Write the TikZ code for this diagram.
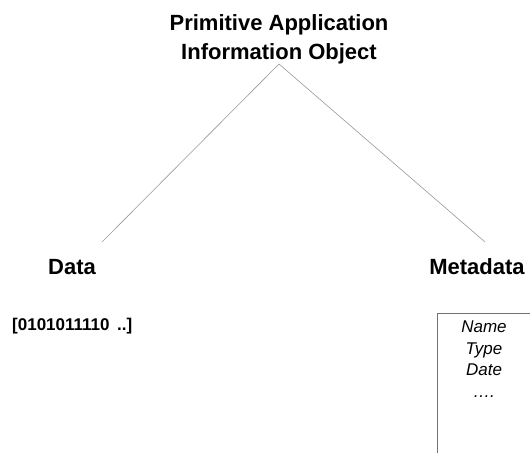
\documentclass[tikz,border=0pt]{standalone}
\usepackage{fontspec}
\setmainfont{Liberation Sans}
\tikzset{
  big/.style={font=\fontsize{22bp}{29bp}\selectfont\bfseries, inner sep=0pt, align=center},
  bits/.style={font=\fontsize{17bp}{20bp}\selectfont\bfseries, inner sep=0pt, anchor=west},
  meta/.style={font=\fontsize{17bp}{21.5bp}\selectfont\itshape, inner sep=0pt, align=center, anchor=north},
  conn/.style={draw=gray!80, line width=0.6bp},
  boxline/.style={draw=gray!90!black, line width=1bp}
}
\begin{document}
\begin{tikzpicture}[x=1bp,y=-1bp]
\useasboundingbox (0,0) rectangle (530,453);
\fill[white] (0,0) rectangle (530,453);
\node[big] (title) at (279,39) {Primitive Application\\Information Object};
\coordinate (apex) at (279,64);
\coordinate (dl) at (102,242);
\coordinate (mr) at (485,242);
\node[big] (data) at (72,267) {Data};
\node[big] (meta) at (477,267) {Metadata};
\node[bits] (bin) at (12,326) {[0101011110 \,..]};
\draw[conn] (apex) -- (dl);
\draw[conn] (apex) -- (mr);
\draw[boxline] (531,313) -- (437,313) -- (437,454);
\node[meta] (list) at (484,321) {Name\\Type\\Date\\\ldots.};
\end{tikzpicture}
\end{document}
